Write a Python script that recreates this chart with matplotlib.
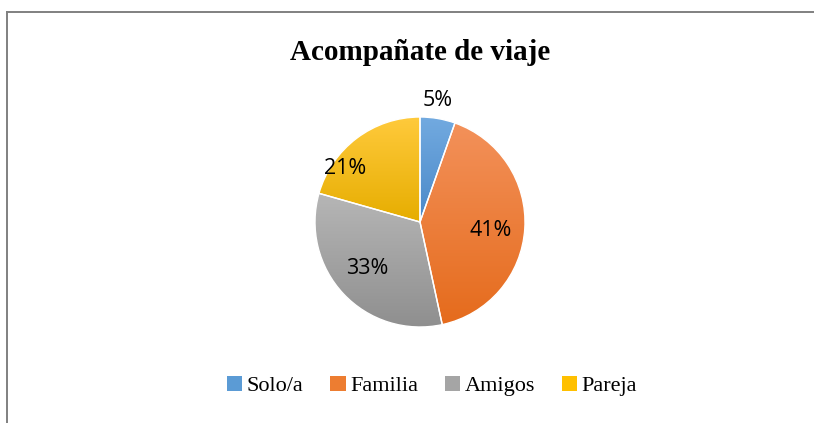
import numpy as np
import matplotlib.pyplot as plt
from matplotlib.lines import Line2D
from matplotlib.colors import LinearSegmentedColormap

plt.rcParams['font.family'] = ['Open Sans', 'DejaVu Sans']

# datos
categories = ['Solo/a', 'Familia', 'Amigos', 'Pareja']
values = [5.4, 41.2, 32.8, 20.6]
title = 'Acompañate de viaje'

# colores (claro arriba, oscuro abajo)
light = ['#72aae0', '#f3915a', '#b6b6b6', '#ffca3c']
dark = ['#4a88c8', '#e56b1c', '#8f8f8f', '#e6ad00']
base = ['#5b9bd5', '#ed7d31', '#a5a5a5', '#ffc000']

W, H = 814, 423
fig = plt.figure(figsize=(W / 100, H / 100), dpi=100)
fig.patch.set_facecolor('white')

# borde del gráfico
fig.add_artist(Line2D([7 / W, 1], [1 - 12 / H, 1 - 12 / H], color='#808080', lw=1.4))
fig.add_artist(Line2D([7 / W, 7 / W], [0, 1 - 12 / H], color='#808080', lw=1.4))

cx, cy, r = 420, 222, 105
ax = fig.add_axes([(cx - r) / W, (H - cy - r) / H, 2 * r / W, 2 * r / H])
wedges, texts = ax.pie(values, startangle=90, counterclock=False, colors=base,
                       wedgeprops=dict(edgecolor='white', linewidth=1.0))
ax.set_xlim(-1, 1)
ax.set_ylim(-1, 1)
ax.set_aspect('auto')
ax.axis('off')

# relleno degradado por sector
for w, c1, c2 in zip(wedges, light, dark):
    path = w.get_path().transformed(w.get_patch_transform())
    (x0, y0), (x1, y1) = path.get_extents().get_points()
    cmap = LinearSegmentedColormap.from_list('g', [c2, c1])
    grad = np.linspace(0, 1, 256).reshape(-1, 1)
    im = ax.imshow(grad, cmap=cmap, extent=[x0, x1, y0, y1], origin='lower',
                   aspect='auto', zorder=w.get_zorder() + 0.1)
    im.set_clip_path(w)
    w.set_facecolor('none')
    w.set_zorder(w.get_zorder() + 0.2)
ax.set_xlim(-1, 1)
ax.set_ylim(-1, 1)

# etiquetas de porcentaje (posición relativa al radio)
label_pos = [(0.17, 1.16), (0.67, -0.08), (-0.50, -0.44), (-0.71, 0.51)]
for v, (px, py) in zip(values, label_pos):
    ax.text(px, py, f'{round(v)}%', ha='center', va='center', fontsize=15.5,
            color='black', clip_on=False)

fig.text(420 / W, 1 - 52 / H, title, ha='center', va='center',
         fontsize=21, fontweight='bold', family='Liberation Serif')

handles = [plt.Rectangle((0, 0), 1, 1, facecolor=c, edgecolor='none') for c in base]
fig.legend(handles, categories, loc='center', bbox_to_anchor=(432 / W, 1 - 386 / H),
           ncol=4, frameon=False, handlelength=0.7, handleheight=0.7,
           handletextpad=0.2, columnspacing=1.2,
           prop={'family': 'Liberation Serif', 'size': 16})

fig.savefig('out.png', dpi=100)
